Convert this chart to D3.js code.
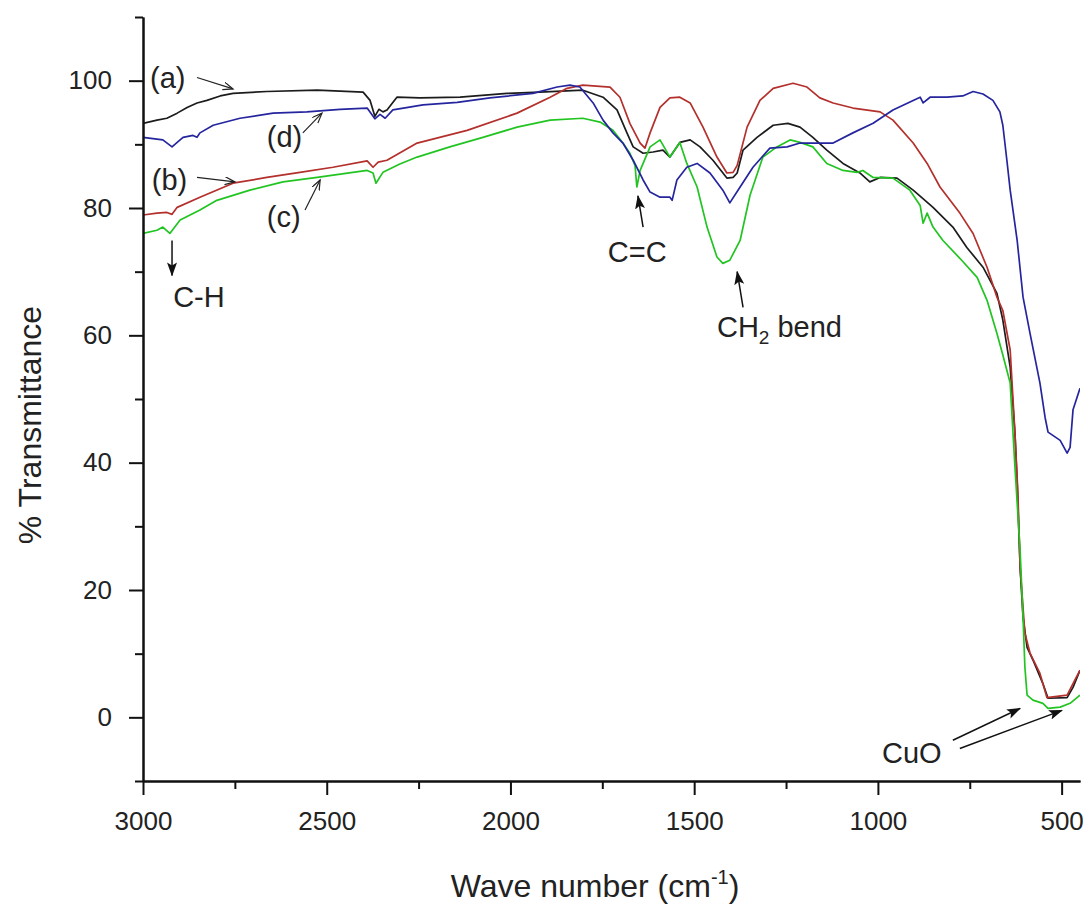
<!DOCTYPE html>
<html>
<head>
<meta charset="utf-8">
<script src="https://cdn.jsdelivr.net/npm/d3@7"></script>
<style>
  body { margin: 0; background: #fff; }
  svg { display: block; font-family: "Liberation Sans", Arial, sans-serif; }
</style>
</head>
<body>
<svg id="chart" width="1088" height="905"></svg>
<script>
// FTIR spectra, [wave number (cm-1), % transmittance]
const seriesA = [
  [3000,93.3],[2962,93.8],[2935,94.1],[2907,94.9],[2880,95.8],[2853,96.5],[2826,96.9],[2790,97.6],
  [2755,98.0],[2663,98.3],[2526,98.5],[2401,98.2],[2382,96.9],[2369,94.4],[2358,95.5],[2347,95.1],
  [2336,95.4],[2309,97.4],[2246,97.3],[2137,97.4],[2009,98.0],[1920,98.2],[1803,98.5],[1748,97.4],
  [1710,95.4],[1683,91.8],[1666,89.6],[1639,88.6],[1612,88.8],[1585,89.1],[1566,88.0],[1539,90.3],
  [1511,90.7],[1484,89.6],[1449,87.5],[1411,84.7],[1394,84.8],[1383,85.5],[1367,89.1],[1329,91.1],
  [1285,93.0],[1245,93.3],[1212,92.7],[1177,91.1],[1139,89.1],[1095,87.0],[1049,85.5],[1022,84.1],
  [994,84.8],[948,84.7],[904,82.8],[850,80.1],[796,77.0],[758,73.8],[714,70.7],[676,66.6],
  [660,62.4],[640,55.0],[627,44.6],[621,36.8],[613,23.6],[605,15.7],[594,11.0],[578,9.0],
  [551,5.3],[537,3.0],[485,3.1],[469,4.7],[450,7.4]
];
const seriesB = [
  [3000,78.9],[2962,79.2],[2935,79.3],[2921,79.0],[2907,80.1],[2845,81.7],[2755,83.9],[2663,84.8],
  [2573,85.6],[2483,86.4],[2390,87.4],[2374,86.4],[2360,87.2],[2336,87.5],[2254,90.2],[2118,92.2],
  [1982,94.9],[1892,97.4],[1846,98.8],[1803,99.3],[1729,99.0],[1702,97.4],[1675,93.3],[1647,90.2],
  [1634,89.4],[1620,91.8],[1593,95.8],[1566,97.3],[1539,97.4],[1511,96.5],[1476,92.7],[1438,88.0],
  [1411,85.5],[1394,85.6],[1383,86.7],[1356,92.7],[1321,96.9],[1285,98.8],[1231,99.6],[1193,99.0],
  [1158,97.3],[1122,96.5],[1068,95.7],[994,95.1],[959,93.8],[904,90.2],[866,87.0],[831,83.3],
  [777,79.2],[741,76.0],[703,70.7],[676,66.0],[660,63.9],[640,57.7],[627,44.6],[619,35.2],
  [613,23.6],[600,13.2],[586,10.1],[559,6.9],[540,3.1],[485,3.5],[469,5.3],[450,7.4]
];
const seriesC = [
  [3000,76.0],[2962,76.5],[2946,77.0],[2927,76.0],[2899,78.1],[2845,79.7],[2799,81.2],[2709,82.8],
  [2619,84.1],[2526,84.8],[2390,85.9],[2374,85.5],[2366,83.9],[2347,85.6],[2301,86.9],[2254,88.0],
  [2165,89.6],[2075,91.1],[1982,92.7],[1892,93.8],[1803,94.1],[1756,93.5],[1721,92.2],[1694,90.2],
  [1675,88.6],[1661,86.7],[1656,83.3],[1647,85.9],[1639,87.0],[1620,89.6],[1593,90.7],[1566,88.0],
  [1539,90.3],[1520,87.0],[1492,83.3],[1465,77.0],[1438,72.3],[1422,71.3],[1403,71.8],[1375,74.9],
  [1348,82.0],[1313,88.0],[1275,89.6],[1239,90.7],[1212,90.3],[1177,89.6],[1139,87.0],[1095,85.9],
  [1057,85.6],[1041,85.9],[1013,84.8],[959,84.7],[913,82.8],[885,80.4],[877,77.6],[866,79.2],
  [850,77.0],[823,74.9],[777,72.1],[730,69.1],[703,65.5],[676,60.3],[660,56.9],[640,52.5],
  [627,39.3],[613,26.2],[605,15.7],[600,7.9],[594,3.5],[578,2.7],[551,2.2],[537,1.4],
  [504,1.6],[477,2.2],[450,3.5]
];
const seriesD = [
  [3000,91.1],[2946,90.7],[2921,89.6],[2907,90.3],[2891,91.1],[2864,91.4],[2853,91.1],[2845,91.8],
  [2809,93.0],[2736,94.1],[2646,94.9],[2554,95.1],[2464,95.5],[2390,95.7],[2369,94.0],[2355,94.7],
  [2341,94.1],[2320,95.4],[2238,96.2],[2145,96.6],[2056,97.3],[1939,98.0],[1873,99.0],[1838,99.3],
  [1811,99.0],[1775,96.5],[1748,93.8],[1721,91.8],[1694,90.2],[1666,87.5],[1639,84.4],[1620,82.5],
  [1593,81.7],[1566,81.7],[1560,81.2],[1547,84.4],[1520,86.4],[1492,87.0],[1457,85.5],[1422,82.8],
  [1403,80.8],[1375,83.3],[1340,86.4],[1294,89.4],[1247,89.6],[1212,90.2],[1122,90.2],[1068,91.8],
  [1013,93.3],[959,95.4],[904,96.9],[885,97.4],[877,96.5],[858,97.4],[812,97.4],[769,97.6],
  [741,98.3],[714,97.9],[687,96.9],[668,95.1],[660,93.0],[649,87.5],[640,82.8],[621,74.9],
  [605,66.0],[586,60.3],[559,52.5],[545,47.1],[537,44.8],[504,43.5],[485,41.5],[477,42.4],
  [469,48.3],[450,51.7]
];

const seriesColors = ["#1c1c1c", "#b3302c", "#22c422", "#25259e"];

const waveTicks = [3000, 2500, 2000, 1500, 1000, 500];
const waveMinor = [2750, 2250, 1750, 1250, 750];
const transTicks = [0, 20, 40, 60, 80, 100];
const transMinor = [-10, 10, 30, 50, 70, 90, 110];

// text labels in data coordinates
const labels = [
  { text: "(a)", at: [2981, 98.8] },
  { text: "(d)", at: [2663, 89.6] },
  { text: "(b)", at: [2976, 82.8] },
  { text: "(c)", at: [2663, 77.0] },
  { text: "C-H", at: [2918, 64.4] },
  { text: "C=C", at: [1735, 71.5] },
  { text: "CuO", at: [989, -7.2] }
];
const openArrows = [
  [[2853, 100.5], [2755, 98.7]],
  [[2853, 84.8], [2750, 84.1]],
  [[2565, 91.8], [2513, 94.9]],
  [[2559, 79.7], [2518, 84.4]]
];
const solidArrows = [
  [[2921, 74.9], [2921, 69.4]],
  [[1639, 77.0], [1653, 81.9]],
  [[1367, 64.4], [1383, 70.0]],
  [[796, -3.6], [613, 1.4]],
  [[777, -4.9], [499, 1.1]]
];

const svg = d3.select("#chart");
svg.append("rect").attr("width", 1088).attr("height", 905).attr("fill", "#fff");

const x = d3.scaleLinear().domain([3000, 450]).range([143, 1080]);
const y = d3.scaleLinear().domain([-10, 110]).range([781, 17]);

const defs = svg.append("defs");
defs.append("clipPath").attr("id", "plot")
  .append("rect").attr("x", 143).attr("y", 17).attr("width", 937).attr("height", 764);

defs.append("marker").attr("id", "headFill")
  .attr("markerUnits", "userSpaceOnUse")
  .attr("markerWidth", 14).attr("markerHeight", 12)
  .attr("refX", 13).attr("refY", 5).attr("orient", "auto")
  .append("path").attr("d", "M0,0 L14,5 L0,10 L3,5 Z").attr("fill", "#111");
defs.append("marker").attr("id", "headOpen")
  .attr("markerUnits", "userSpaceOnUse")
  .attr("markerWidth", 12).attr("markerHeight", 10)
  .attr("refX", 10).attr("refY", 4).attr("orient", "auto")
  .append("path").attr("d", "M0,0 L10,4 L0,8").attr("fill", "none")
  .attr("stroke", "#222").attr("stroke-width", 1.2);

// spectra
const line = d3.line().x(d => x(d[0])).y(d => y(d[1]));
const spectra = svg.append("g").attr("clip-path", "url(#plot)");
[seriesA, seriesB, seriesC, seriesD].forEach((s, i) => {
  spectra.append("path")
    .datum(s)
    .attr("d", line)
    .attr("fill", "none")
    .attr("stroke", seriesColors[i])
    .attr("stroke-width", 1.7)
    .attr("stroke-linejoin", "round");
});

// axes
const styleAxis = g => {
  g.selectAll("path, line").attr("stroke", "#111").attr("stroke-width", 2);
  g.selectAll("text").attr("font-size", 26).attr("fill", "#222")
    .attr("font-family", "'Liberation Sans', Arial, sans-serif");
};

svg.append("g").attr("transform", "translate(143,0)")
  .call(d3.axisLeft(y).tickValues(transMinor).tickSize(8).tickFormat("").tickSizeOuter(0))
  .call(styleAxis);
svg.append("g").attr("transform", "translate(143,0)")
  .call(d3.axisLeft(y).tickValues(transTicks).tickSize(14).tickPadding(17)
    .tickFormat(d3.format("d")).tickSizeOuter(0))
  .call(styleAxis);

svg.append("g").attr("transform", "translate(0,781)")
  .call(d3.axisBottom(x).tickValues(waveMinor).tickSize(8).tickFormat("").tickSizeOuter(0))
  .call(styleAxis);
svg.append("g").attr("transform", "translate(0,781)")
  .call(d3.axisBottom(x).tickValues(waveTicks).tickSize(14).tickPadding(17)
    .tickFormat(d3.format("d")).tickSizeOuter(0))
  .call(styleAxis);

// axis titles
svg.append("text")
  .attr("transform", "translate(41,425) rotate(-90)")
  .attr("text-anchor", "middle")
  .attr("font-size", 32).attr("fill", "#222")
  .text("% Transmittance");

const xt = svg.append("text")
  .attr("x", 595).attr("y", 897)
  .attr("text-anchor", "middle")
  .attr("font-size", 32).attr("fill", "#222");
xt.append("tspan").text("Wave number (cm");
xt.append("tspan").attr("font-size", 20).attr("dy", -13).text("-1");
xt.append("tspan").attr("dy", 13).text(")");

// annotations
const ann = svg.append("g").attr("font-size", 29).attr("fill", "#222");
labels.forEach(l => {
  ann.append("text").attr("x", x(l.at[0])).attr("y", y(l.at[1])).text(l.text);
});
const ch2 = ann.append("text").attr("x", x(1438)).attr("y", y(59.7));
ch2.append("tspan").text("CH");
ch2.append("tspan").attr("font-size", 19).attr("dy", 7).text("2");
ch2.append("tspan").attr("dy", -7).text(" bend");

openArrows.forEach(a => {
  svg.append("line")
    .attr("x1", x(a[0][0])).attr("y1", y(a[0][1]))
    .attr("x2", x(a[1][0])).attr("y2", y(a[1][1]))
    .attr("stroke", "#222").attr("stroke-width", 1.2)
    .attr("marker-end", "url(#headOpen)");
});
solidArrows.forEach(a => {
  svg.append("line")
    .attr("x1", x(a[0][0])).attr("y1", y(a[0][1]))
    .attr("x2", x(a[1][0])).attr("y2", y(a[1][1]))
    .attr("stroke", "#111").attr("stroke-width", 1.5)
    .attr("marker-end", "url(#headFill)");
});
</script>
</body>
</html>
